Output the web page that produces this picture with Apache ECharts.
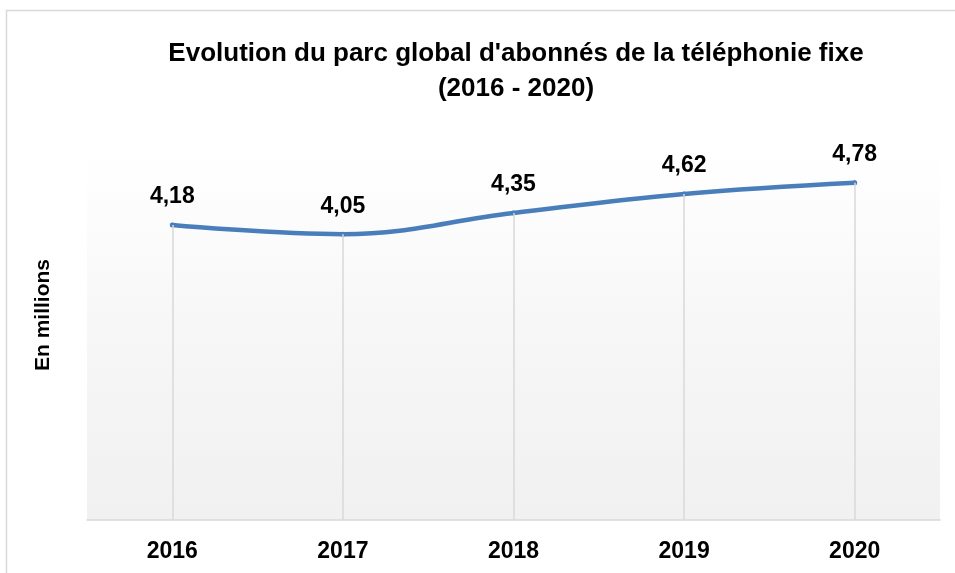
<!DOCTYPE html>
<html lang="fr">
<head>
    <meta charset="UTF-8">
    <title>Evolution du parc global d'abonnés de la téléphonie fixe</title>
    <style>
        * { margin: 0; padding: 0; }
        #chart { width: 955px; height: 573px; background: #fff; }
    </style>
</head>
<body>
    <div id="chart"></div>
    <script src="https://cdn.jsdelivr.net/npm/echarts@6/dist/echarts.min.js"></script>
    <script>
        var years = ['2016', '2017', '2018', '2019', '2020'];
        var abonnes = [4.18, 4.05, 4.35, 4.62, 4.78];

        var font = "'Liberation Sans', Arial, sans-serif";

        // lignes verticales du point jusqu'à l'axe
        var dropLines = abonnes.map(function (v, i) {
            return [{ coord: [i, v] }, { coord: [i, 0] }];
        });

        var myChart = echarts.init(document.getElementById('chart'));
        myChart.setOption({
            animation: false,
            title: {
                text: "Evolution du parc global d'abonnés de la téléphonie fixe\n(2016 - 2020)",
                left: 511,
                textAlign: 'center',
                top: 31,
                textStyle: { fontFamily: font, fontSize: 26, fontWeight: 'bold', color: '#000', lineHeight: 35 }
            },
            graphic: [
                {
                    type: 'rect',
                    shape: { x: 6.5, y: 10.5, width: 960, height: 570 },
                    style: { fill: 'none', stroke: '#d9d9d9', lineWidth: 1.5 },
                    silent: true
                },
                {
                    type: 'text',
                    x: 43, y: 315, rotation: Math.PI / 2,
                    style: {
                        text: 'En millions', fill: '#000',
                        font: "bold 21px 'Liberation Sans', Arial, sans-serif",
                        align: 'center', verticalAlign: 'middle'
                    }
                }
            ],
            grid: {
                left: 87, right: 15, top: 153, bottom: 53,
                show: true, borderWidth: 0,
                backgroundColor: new echarts.graphic.LinearGradient(0, 0, 0, 1, [
                    { offset: 0, color: '#ffffff' },
                    { offset: 0.6, color: '#f5f5f5' },
                    { offset: 1, color: '#f1f1f1' }
                ])
            },
            xAxis: {
                type: 'category',
                data: years,
                axisLine: { lineStyle: { color: '#d9d9d9', width: 1.5 } },
                axisTick: { length: 8, lineStyle: { color: '#d9d9d9', width: 1.5 } },
                axisLabel: { color: '#000', fontFamily: font, fontSize: 23, fontWeight: 'bold', margin: 20 }
            },
            yAxis: {
                type: 'value',
                min: 0, max: 5.2,
                show: false,
                splitLine: { show: false }
            },
            series: [{
                type: 'line',
                data: abonnes,
                smooth: 0.4,
                symbol: 'circle',
                symbolSize: 5,
                showSymbol: true,
                lineStyle: { color: '#4a7ebb', width: 4.5, cap: 'round' },
                itemStyle: { color: '#4a7ebb' },
                label: {
                    show: true, position: 'top', distance: 14,
                    formatter: function (p) { return p.value.toFixed(2).replace('.', ','); },
                    fontFamily: font, fontSize: 23, fontWeight: 'bold', color: '#000'
                },
                markLine: {
                    silent: true,
                    symbol: 'none',
                    label: { show: false },
                    lineStyle: { color: '#d9d9d9', width: 1.5, type: 'solid' },
                    data: dropLines
                },
                z: 3
            }]
        });
    </script>
</body>
</html>
